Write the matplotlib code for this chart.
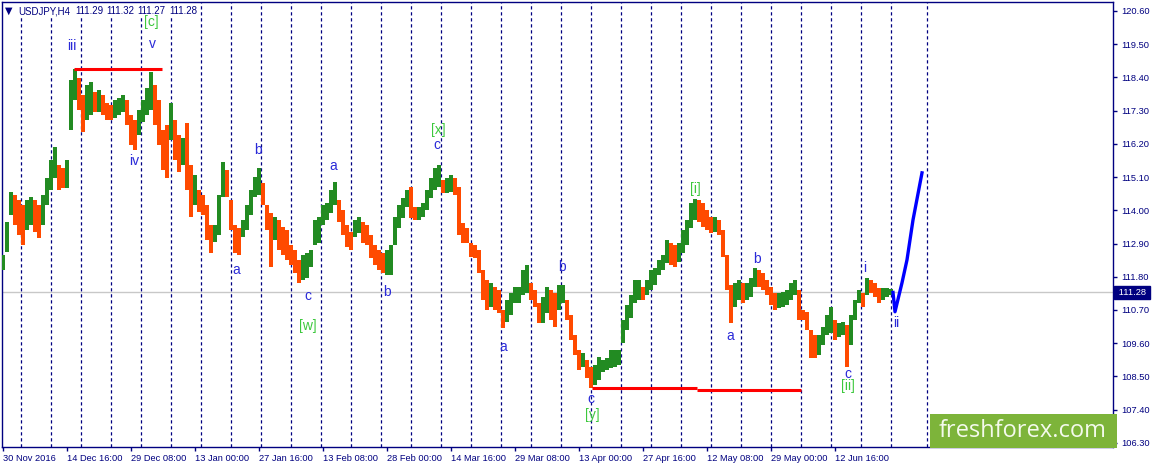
import numpy as np
import matplotlib
matplotlib.use("Agg")
import matplotlib.pyplot as plt
from matplotlib.patches import Rectangle
import matplotlib.transforms as mtransforms

# ---------------- data (USDJPY H4, 4-bar bins) ----------------
bar_high = [112.52, 113.61, 114.61, 114.51, 114.34, 114.17, 114.34, 114.44, 114.34, 114.17,
            114.51, 115.07, 115.67, 116.10, 115.50, 115.40, 115.67, 118.32, 118.68, 118.38,
            117.82, 118.15, 118.25, 117.92, 117.98, 117.82, 117.55, 117.49, 117.65, 117.72,
            117.82, 117.65, 117.16, 116.99, 117.32, 117.65, 118.05, 118.58, 118.15, 117.65,
            116.66, 116.82, 117.55, 116.99, 116.49, 116.39, 116.89, 115.50, 115.17, 114.67,
            114.51, 114.17, 113.51, 113.51, 114.51, 115.60, 115.33, 114.34, 113.51, 113.41,
            113.68, 114.17, 114.67, 115.10, 115.40, 114.90, 114.17, 113.91, 113.78, 113.68,
            113.45, 113.35, 112.85, 112.69, 112.36, 112.52, 112.59, 112.69, 113.68, 113.78,
            114.17, 114.24, 114.67, 114.94, 114.34, 114.01, 113.51, 113.28, 113.68, 113.78,
            113.61, 113.51, 113.18, 112.85, 112.69, 112.59, 112.69, 112.85, 113.78, 114.17,
            114.41, 114.67, 114.77, 114.11, 114.11, 114.24, 114.67, 115.07, 115.40, 115.50,
            115.00, 115.07, 115.17, 115.07, 114.77, 113.58, 113.41, 112.92, 112.85, 112.69,
            112.02, 111.69, 111.59, 111.46, 111.36, 110.70, 111.03, 111.26, 111.46, 111.46,
            112.02, 112.19, 111.59, 111.36, 110.93, 111.13, 111.46, 111.36, 111.26, 111.53,
            111.53, 111.03, 110.53, 109.87, 109.37, 109.28, 109.04, 108.81, 108.88, 109.14,
            109.04, 109.11, 109.37, 109.37, 109.37, 110.37, 110.87, 111.20, 111.69, 111.69,
            111.46, 111.69, 112.02, 112.09, 112.36, 112.52, 113.02, 112.92, 112.85, 112.92,
            113.35, 113.68, 114.24, 114.37, 114.34, 114.24, 114.01, 113.78, 113.78, 113.68,
            113.35, 112.52, 111.53, 111.59, 111.69, 111.59, 111.59, 111.76, 112.09, 112.02,
            111.92, 111.69, 111.46, 111.26, 111.26, 111.30, 111.36, 111.59, 111.69, 111.36,
            110.70, 110.63, 110.04, 109.87, 109.87, 110.14, 110.53, 110.80, 110.37, 110.27,
            110.30, 110.20, 110.53, 111.03, 111.36, 111.26, 111.76, 111.69, 111.59, 111.43,
            111.43, 111.43, 111.39]

bar_low = [112.02, 112.62, 113.84, 113.51, 113.18, 112.85, 113.35, 113.51, 113.28, 113.08,
           113.51, 114.17, 114.67, 115.07, 114.67, 114.74, 114.74, 116.66, 117.65, 117.32,
           116.59, 116.99, 117.16, 117.26, 117.26, 117.16, 116.99, 116.99, 117.06, 117.16,
           117.26, 116.82, 116.16, 116.00, 116.49, 116.92, 117.16, 117.32, 116.82, 116.16,
           115.33, 115.07, 116.33, 115.67, 115.27, 115.50, 114.67, 113.78, 114.17, 113.94,
           113.84, 113.02, 112.59, 112.95, 113.18, 114.44, 114.44, 113.35, 112.59, 112.52,
           113.12, 113.35, 113.84, 114.44, 114.51, 114.17, 113.35, 112.12, 113.02, 112.69,
           112.52, 112.36, 112.19, 111.92, 111.59, 111.69, 111.76, 112.12, 112.85, 112.92,
           113.51, 113.68, 113.91, 114.17, 113.61, 113.18, 112.79, 112.69, 113.12, 113.25,
           112.92, 112.85, 112.42, 112.19, 112.02, 111.92, 111.86, 111.86, 112.85, 113.41,
           113.75, 114.11, 113.75, 113.68, 113.68, 113.78, 114.01, 114.41, 114.67, 114.77,
           114.57, 114.57, 114.61, 114.51, 113.18, 112.92, 112.92, 112.45, 112.42, 111.92,
           111.03, 110.70, 110.80, 110.70, 110.60, 110.10, 110.30, 110.53, 110.93, 110.93,
           111.20, 111.26, 111.03, 110.80, 110.27, 110.27, 110.60, 110.37, 110.14, 110.70,
           110.93, 110.37, 109.70, 109.21, 108.71, 108.81, 108.45, 108.13, 108.22, 108.38,
           108.65, 108.71, 108.78, 108.81, 108.88, 109.61, 110.04, 110.43, 110.93, 111.03,
           111.03, 111.20, 111.36, 111.53, 111.86, 112.02, 112.26, 112.19, 112.12, 112.29,
           112.59, 112.85, 113.41, 113.68, 113.61, 113.45, 113.35, 113.25, 113.28, 113.18,
           112.45, 111.36, 110.27, 110.80, 111.03, 110.93, 111.03, 111.13, 111.46, 111.46,
           111.36, 111.20, 110.87, 110.70, 110.77, 110.80, 110.87, 111.03, 111.20, 110.37,
           110.37, 110.04, 109.11, 109.11, 109.21, 109.54, 109.87, 109.94, 109.70, 109.80,
           109.87, 108.81, 109.54, 110.37, 110.93, 110.80, 111.20, 111.26, 111.13, 110.93,
           111.03, 111.13, 111.20]

price_ticks = [120.60, 119.50, 118.40, 117.30, 116.20, 115.10, 114.00, 112.90,
               111.80, 110.70, 109.60, 108.50, 107.40, 106.30]
date_labels = ["30 Nov 2016", "14 Dec 16:00", "29 Dec 08:00", "13 Jan 00:00",
               "27 Jan 16:00", "13 Feb 08:00", "28 Feb 00:00", "14 Mar 16:00",
               "29 Mar 08:00", "13 Apr 00:00", "27 Apr 16:00", "12 May 08:00",
               "29 May 00:00", "12 Jun 16:00"]
symbol = "USDJPY,H4"
quote = ["111.29", "111.32", "111.27", "111.28"]
last_price = 111.28
top_level = 118.68
bottom_levels = [108.11, 108.06]
proj_offsets = [0, 2, 9, 14, 20, 29]
proj_prices = [111.28, 110.64, 111.60, 112.36, 113.68, 115.24]

wave_labels = [
    ("iii", 72, 119.44, "b"), ("v", 152, 119.51, "b"), ("[c]", 151, 120.25, "g"),
    ("iv", 134, 115.63, "b"), ("a", 236, 112.02, "b"), ("b", 258, 116.00, "b"),
    ("c", 308, 111.16, "b"), ("[w]", 308, 110.17, "g"), ("a", 333, 115.47, "b"),
    ("b", 387, 111.30, "b"), ("c", 437, 116.16, "b"), ("[x]", 438, 116.66, "g"),
    ("a", 503, 109.47, "b"), ("b", 562, 112.12, "b"), ("c", 591, 107.75, "b"),
    ("[y]", 592, 107.22, "g"), ("[i]", 695, 114.71, "g"), ("a", 730, 109.84, "b"),
    ("b", 757, 112.39, "b"), ("c", 848, 108.58, "b"), ("[ii]", 848, 108.18, "g"),
    ("i", 865, 112.09, "b"), ("ii", 896, 110.27, "b"),
]

# ---------------- drawing ----------------
plt.rcParams["font.family"] = ["Liberation Sans", "DejaVu Sans"]
NAVY = "#000080"
UP = "#228B22"
DOWN = "#FF4A00"
WAVE_BLUE = "#2A2AD8"
WAVE_GREEN = "#3CC83C"

W, H = 1157, 468
fig = plt.figure(figsize=(W / 100, H / 100), dpi=100)
fig.patch.set_facecolor("white")
ax = fig.add_axes([2 / W, 21 / H, 1111 / W, 445 / H])
ax.set_xlim(2, 1113)
ax.set_ylim(106.162, 120.898)
ax.set_autoscale_on(False)

hi = np.array(bar_high)
lo = np.array(bar_low)
n = len(hi)
xs = 3 + 4 * np.arange(n)
mid = (hi + lo) / 2
up = np.concatenate([[True], mid[1:] >= mid[:-1]])
colors = [UP if u else DOWN for u in up]

# week separators
for m in range(30):
    ax.axvline(21.3 + 30 * m, color=NAVY, lw=0.9, ls=(0, (2.6, 2.2)), zorder=1)
ax.axvline(927.3, color=NAVY, lw=0.9, ls=(0, (2.6, 2.2)), zorder=1)

# current price line
ax.axhline(last_price, color="#C8C8C8", lw=1, zorder=1)

# bars
ax.bar(xs, hi - lo, bottom=lo, width=3.2, color=colors, linewidth=0, zorder=3)

# red levels
ax.plot([74, 162], [top_level, top_level], color="#FF0000", lw=2.2, zorder=4, solid_capstyle="butt")
ax.plot([592, 697], [bottom_levels[0]] * 2, color="#FF0000", lw=2.2, zorder=4, solid_capstyle="butt")
ax.plot([697, 801], [bottom_levels[1]] * 2, color="#FF0000", lw=2.2, zorder=4, solid_capstyle="butt")

# projection
px = xs[-1] + 2 + np.array(proj_offsets)
ax.plot(px, proj_prices, color="#0000FF", lw=2.4, zorder=5, solid_joinstyle="round")

# wave labels
for txt, x, y, kind in wave_labels:
    ax.text(x, y, txt, color=WAVE_BLUE if kind == "b" else WAVE_GREEN,
            fontsize=10, ha="center", va="center", zorder=6)

# axes styling
for s in ax.spines.values():
    s.set_color(NAVY)
    s.set_linewidth(1)
ax.yaxis.tick_right()
ax.set_yticks(price_ticks)
ax.set_yticklabels([f"{v:.2f}" for v in price_ticks])
ax.tick_params(axis="y", direction="out", length=3, width=1, color=NAVY,
               labelcolor=NAVY, labelsize=6.7, pad=3)
date_pos = [3.3 + 64 * j for j in range(len(date_labels))]
ax.set_xticks(date_pos)
ax.set_xticklabels(date_labels)
for lab in ax.get_xticklabels():
    lab.set_horizontalalignment("left")
ax.tick_params(axis="x", direction="out", length=3, width=1, color=NAVY,
               labelcolor=NAVY, labelsize=6.7, pad=2)

# last price tag
trans = mtransforms.blended_transform_factory(ax.transAxes, ax.transData)
ax.text(1.0025, last_price, f" {last_price:.2f} ", transform=trans, color="white",
        fontsize=6.7, ha="left", va="center", zorder=7, clip_on=False,
        bbox=dict(boxstyle="square,pad=0.2", facecolor=NAVY, edgecolor=NAVY))

# header (on a white strip above the separators but below the wave labels)
ax.add_patch(Rectangle((3, 120.42), 197, 0.47, facecolor="white", edgecolor="none", zorder=2))
ax.text(5 / W, 1 - 10.5 / H, "\u25BC", color=NAVY, fontsize=7, ha="left", va="center",
        family="DejaVu Sans", zorder=7, transform=fig.transFigure)
ax.text(18 / W, 1 - 11 / H, symbol, color=NAVY, fontsize=7, ha="left", va="center",
        zorder=7, transform=fig.transFigure)
for i, q in enumerate(quote):
    ax.text((75 + 31.3 * i) / W, 1 - 11 / H, q, color=NAVY, fontsize=7, ha="left",
            va="center", zorder=7, transform=fig.transFigure)

# watermark
fig.add_artist(Rectangle((930 / W, 20 / H), 187 / W, 34 / H, transform=fig.transFigure,
                         facecolor="#7DB43A", edgecolor="none", zorder=10))
fig.text(1023 / W, 1 - 431 / H, "freshforex.com", color="#F4FAEC", fontsize=17,
         ha="center", va="center", family=["Open Sans", "DejaVu Sans"], zorder=11)

fig.savefig("out.png", dpi=100, facecolor="white")
